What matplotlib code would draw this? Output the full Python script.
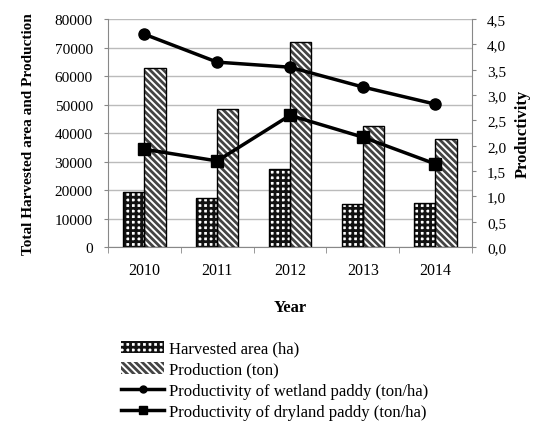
import matplotlib.pyplot as plt
import matplotlib.ticker as mticker
import numpy as np
from matplotlib.patches import Patch
from matplotlib.lines import Line2D

plt.rcParams['font.family'] = ['Liberation Serif', 'DejaVu Serif']
plt.rcParams['hatch.linewidth'] = 2.0

years = ['2010', '2011', '2012', '2013', '2014']
harvested_area = [19500, 17300, 27500, 15000, 15300]
production = [62800, 48500, 72000, 42500, 38000]
wetland = [4.2, 3.65, 3.55, 3.16, 2.82]
dryland = [1.93, 1.70, 2.60, 2.17, 1.64]

fig = plt.figure(figsize=(5.35, 4.27), dpi=100)
ax = fig.add_axes([0.202, 0.419, 0.68, 0.534])
x = np.arange(len(years))
w = 0.29

# harvested area: black grid with white cells
ax.bar(x - w / 2, harvested_area, w, color='white', edgecolor='#111111',
       hatch='+++', linewidth=0, zorder=2)
ax.bar(x - w / 2, harvested_area, w, fill=False, edgecolor='black',
       linewidth=1, zorder=3)
# production: dense diagonal
ax.bar(x + w / 2, production, w, color='white', edgecolor='#444444',
       hatch='\\\\\\\\\\', linewidth=0, zorder=2)
ax.bar(x + w / 2, production, w, fill=False, edgecolor='black',
       linewidth=1, zorder=3)

ax.set_xlim(-0.5, len(years) - 0.5)
ax.set_ylim(0, 80000)
ax.set_yticks(np.arange(0, 80001, 10000))
ax.yaxis.grid(True, color='#bbbbbb', linewidth=1, zorder=0)
ax.set_axisbelow(True)
ax.set_xticks(x)
ax.set_xticklabels(years, fontsize=11.5)
ax.set_xticks(np.arange(-0.5, len(years)), minor=True)
ax.tick_params(axis='x', which='major', length=0, pad=11)
ax.tick_params(axis='x', which='minor', length=4, color='#888888')
ax.tick_params(axis='y', labelsize=11, length=3, color='#888888', pad=8)
ax.set_xlabel('Year', fontsize=12, fontweight='bold', labelpad=15)
ax.set_ylabel('Total Harvested area and Production', fontsize=11,
              fontweight='bold', labelpad=14)
for s in ['top', 'right']:
    ax.spines[s].set_visible(False)
ax.spines['left'].set_color('#888888')
ax.spines['bottom'].set_color('#888888')

ax2 = ax.twinx()
ax2.plot(x, wetland, color='black', lw=2.5, marker='o', ms=8, zorder=5)
ax2.plot(x, dryland, color='black', lw=2.5, marker='s', ms=8, zorder=5)
ax2.set_ylim(0, 4.5)
ax2.set_yticks(np.arange(0, 4.51, 0.5))
ax2.yaxis.set_major_formatter(mticker.FuncFormatter(
    lambda v, p: f'{v:.1f}'.replace('.', ',')))
ax2.tick_params(axis='y', labelsize=11, length=3, color='#888888', pad=8)
ax2.set_ylabel('Productivity', fontsize=12, fontweight='bold', labelpad=6)
for s in ['top', 'left', 'bottom']:
    ax2.spines[s].set_visible(False)
ax2.spines['right'].set_color('#888888')

handles = [
    Patch(facecolor='white', edgecolor='#111111', hatch='+++', linewidth=0),
    Patch(facecolor='white', edgecolor='#444444', hatch='\\\\\\\\\\', linewidth=0),
    Line2D([], [], color='black', lw=2.5, marker='o', ms=5),
    Line2D([], [], color='black', lw=2.5, marker='s', ms=6),
]
labels = ['Harvested area (ha)', 'Production (ton)',
          'Productivity of wetland paddy (ton/ha)',
          'Productivity of dryland paddy (ton/ha)']
fig.legend(handles, labels, loc='upper left', bbox_to_anchor=(0.214, 0.215),
           frameon=False, fontsize=12, handlelength=2.6, handletextpad=0.3,
           labelspacing=0.3, borderaxespad=0)

fig.savefig('out.png', dpi=100)
